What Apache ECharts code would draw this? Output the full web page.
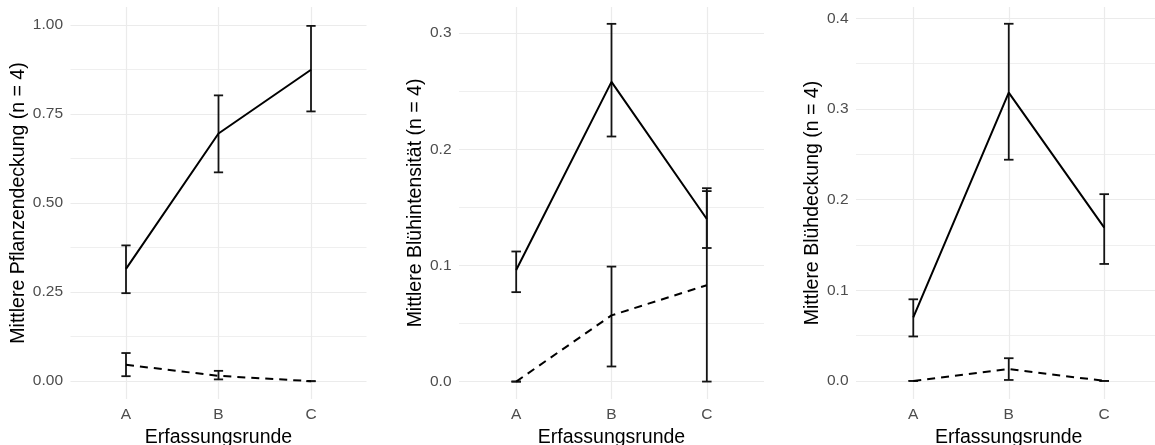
<!DOCTYPE html>
<html>
<head>
<meta charset="utf-8">
<script src="https://cdn.jsdelivr.net/npm/echarts@6/dist/echarts.min.js"></script>
<style>
html,body{margin:0;padding:0;background:#ffffff;}
#c{width:1155px;height:445px;}
</style>
</head>
<body>
<div id="c"></div>
<script>
// ---------- data ----------
const categories = ['A', 'B', 'C'];
const xTitle = 'Erfassungsrunde';

// Panel 1: Pflanzendeckung
const p1Title = 'Mittlere Pflanzendeckung (n = 4)';
const p1SolidMean = [0.315, 0.695, 0.874];
const p1SolidLow  = [0.247, 0.586, 0.757];
const p1SolidHigh = [0.381, 0.802, 0.997];
const p1DashMean  = [0.046, 0.015, 0.0];
const p1DashLow   = [0.014, 0.005, 0.0];
const p1DashHigh  = [0.079, 0.029, 0.0];
const p1TickValues = [0, 0.25, 0.5, 0.75, 1.0];
const p1TickLabels = ['0.00', '0.25', '0.50', '0.75', '1.00'];

// Panel 2: Blühintensität
const p2Title = 'Mittlere Blühintensität (n = 4)';
const p2SolidMean = [0.096, 0.258, 0.140];
const p2SolidLow  = [0.077, 0.211, 0.115];
const p2SolidHigh = [0.112, 0.308, 0.1665];
const p2DashMean  = [0.0, 0.057, 0.083];
const p2DashLow   = [0.0, 0.013, 0.0];
const p2DashHigh  = [0.0, 0.099, 0.164];
const p2TickValues = [0, 0.1, 0.2, 0.3];
const p2TickLabels = ['0.0', '0.1', '0.2', '0.3'];

// Panel 3: Blühdeckung
const p3Title = 'Mittlere Blühdeckung (n = 4)';
const p3SolidMean = [0.070, 0.318, 0.169];
const p3SolidLow  = [0.049, 0.244, 0.129];
const p3SolidHigh = [0.090, 0.394, 0.206];
const p3DashMean  = [0.0, 0.013, 0.0];
const p3DashLow   = [0.0, 0.001, 0.0];
const p3DashHigh  = [0.0, 0.025, 0.0];
const p3TickValues = [0, 0.1, 0.2, 0.3, 0.4];
const p3TickLabels = ['0.0', '0.1', '0.2', '0.3', '0.4'];

// ---------- layout / style ----------
const FONT = '"Liberation Sans", Arial, Helvetica, sans-serif';
const GRID_TOP = 7, GRID_H = 392;
const panels = [
  {title: p1Title, sm: p1SolidMean, sl: p1SolidLow, sh: p1SolidHigh, dm: p1DashMean, dl: p1DashLow, dh: p1DashHigh,
   tv: p1TickValues, tl: p1TickLabels, step: 0.025, left: 70.5, width: 296, nameGap: 39},
  {title: p2Title, sm: p2SolidMean, sl: p2SolidLow, sh: p2SolidHigh, dm: p2DashMean, dl: p2DashLow, dh: p2DashHigh,
   tv: p2TickValues, tl: p2TickLabels, step: 0.0025, left: 459, width: 305, nameGap: 31},
  {title: p3Title, sm: p3SolidMean, sl: p3SolidLow, sh: p3SolidHigh, dm: p3DashMean, dl: p3DashLow, dh: p3DashHigh,
   tv: p3TickValues, tl: p3TickLabels, step: 0.0025, left: 856, width: 305.5, nameGap: 33}
];
const X_MIN = 0.4, X_MAX = 3.6, X_STEP = 0.2;
const CAP_HALF = 0.05;
const MAJOR_COL = '#ebebeb', MINOR_COL = '#efefef';

function isMultiple(v, m) { const r = v / m; return Math.abs(r - Math.round(r)) < 1e-6; }

function renderErr(params, api) {
  const x = api.value(0), lo = api.value(1), hi = api.value(2);
  const a = api.coord([x, lo]);
  const b = api.coord([x, hi]);
  const w = api.coord([x + CAP_HALF, hi])[0] - b[0];
  const style = {stroke: '#141414', lineWidth: 1.8, fill: null};
  return {type: 'group', children: [
    {type: 'line', shape: {x1: a[0], y1: a[1], x2: b[0], y2: b[1]}, style: style},
    {type: 'line', shape: {x1: b[0] - w, y1: b[1], x2: b[0] + w, y2: b[1]}, style: style},
    {type: 'line', shape: {x1: a[0] - w, y1: a[1], x2: a[0] + w, y2: a[1]}, style: style}
  ]};
}

const grids = [], xAxes = [], yAxes = [], series = [];

const xCount = Math.round((X_MAX - X_MIN) / X_STEP) + 1;
const xColors = [];
for (let k = 0; k < xCount; k++) {
  const v = X_MIN + k * X_STEP;
  xColors.push(isMultiple(v, 1) ? MAJOR_COL : 'rgba(0,0,0,0)');
}

panels.forEach(function (p, i) {
  const allLow = p.sl.concat(p.dl, p.sm, p.dm);
  const allHigh = p.sh.concat(p.dh, p.sm, p.dm);
  const lo = Math.min.apply(null, allLow), hi = Math.max.apply(null, allHigh);
  const pad = 0.05 * (hi - lo);
  const yMin = Math.round((lo - pad) / p.step) * p.step;
  const yMax = Math.round((hi + pad) / p.step) * p.step;
  const minorVals = [];
  for (let k = 0; k < p.tv.length - 1; k++) minorVals.push((p.tv[k] + p.tv[k + 1]) / 2);
  const yCount = Math.round((yMax - yMin) / p.step) + 1;
  const yColors = [];
  for (let k = 0; k < yCount; k++) {
    const v = yMin + k * p.step;
    let c = 'rgba(0,0,0,0)';
    if (p.tv.some(t => Math.abs(t - v) < p.step / 4)) c = MAJOR_COL;
    else if (minorVals.some(t => Math.abs(t - v) < p.step / 4)) c = MINOR_COL;
    yColors.push(c);
  }

  grids.push({left: p.left, top: GRID_TOP, width: p.width, height: GRID_H, containLabel: false, outerBoundsMode: 'none'});

  xAxes.push({
    type: 'value', gridIndex: i, min: X_MIN, max: X_MAX, interval: X_STEP,
    axisLine: {show: false}, axisTick: {show: false},
    axisLabel: {
      color: '#4d4d4d', fontSize: 15.5, fontFamily: FONT, margin: 8,
      formatter: function (v) {
        const r = Math.round(v);
        return (Math.abs(v - r) < 1e-6 && r >= 1 && r <= categories.length) ? categories[r - 1] : '';
      }
    },
    splitLine: {show: true, lineStyle: {color: xColors, width: 1.2}},
    name: xTitle, nameLocation: 'middle', nameGap: 23,
    nameTextStyle: {color: '#000', fontSize: 19.5, fontFamily: FONT}
  });

  yAxes.push({
    type: 'value', gridIndex: i, min: yMin, max: yMax, interval: p.step,
    axisLine: {show: false}, axisTick: {show: false},
    axisLabel: {
      color: '#4d4d4d', fontSize: 15.5, fontFamily: FONT, margin: 7.5,
      formatter: function (v) {
        for (let k = 0; k < p.tv.length; k++) if (Math.abs(p.tv[k] - v) < p.step / 4) return p.tl[k];
        return '';
      }
    },
    splitLine: {show: true, lineStyle: {color: yColors, width: 1.2}},
    name: p.title, nameLocation: 'middle', nameGap: p.nameGap,
    nameTextStyle: {color: '#000', fontSize: 19.5, fontFamily: FONT}
  });

  const solidLine = p.sm.map((v, k) => [k + 1, v]);
  const dashLine = p.dm.map((v, k) => [k + 1, v]);
  const solidErr = p.sm.map((v, k) => [k + 1, p.sl[k], p.sh[k]]);
  const dashErr = p.dm.map((v, k) => [k + 1, p.dl[k], p.dh[k]]);

  series.push({
    type: 'custom', xAxisIndex: i, yAxisIndex: i, renderItem: renderErr, data: solidErr,
    encode: {x: 0, y: [1, 2]}, silent: true, z: 2
  });
  series.push({
    type: 'custom', xAxisIndex: i, yAxisIndex: i, renderItem: renderErr, data: dashErr,
    encode: {x: 0, y: [1, 2]}, silent: true, z: 2
  });
  series.push({
    type: 'line', xAxisIndex: i, yAxisIndex: i, data: solidLine, symbol: 'none', showSymbol: false,
    lineStyle: {color: '#000000', width: 2, type: 'solid'}, silent: true, clip: false, z: 3
  });
  series.push({
    type: 'line', xAxisIndex: i, yAxisIndex: i, data: dashLine, symbol: 'none', showSymbol: false,
    lineStyle: {color: '#000000', width: 2, type: [8, 6]}, silent: true, clip: false, z: 3
  });
});

const chart = echarts.init(document.getElementById('c'), null, {renderer: 'canvas'});
chart.setOption({
  backgroundColor: '#ffffff',
  animation: false,
  grid: grids,
  xAxis: xAxes,
  yAxis: yAxes,
  series: series
});
</script>
</body>
</html>
